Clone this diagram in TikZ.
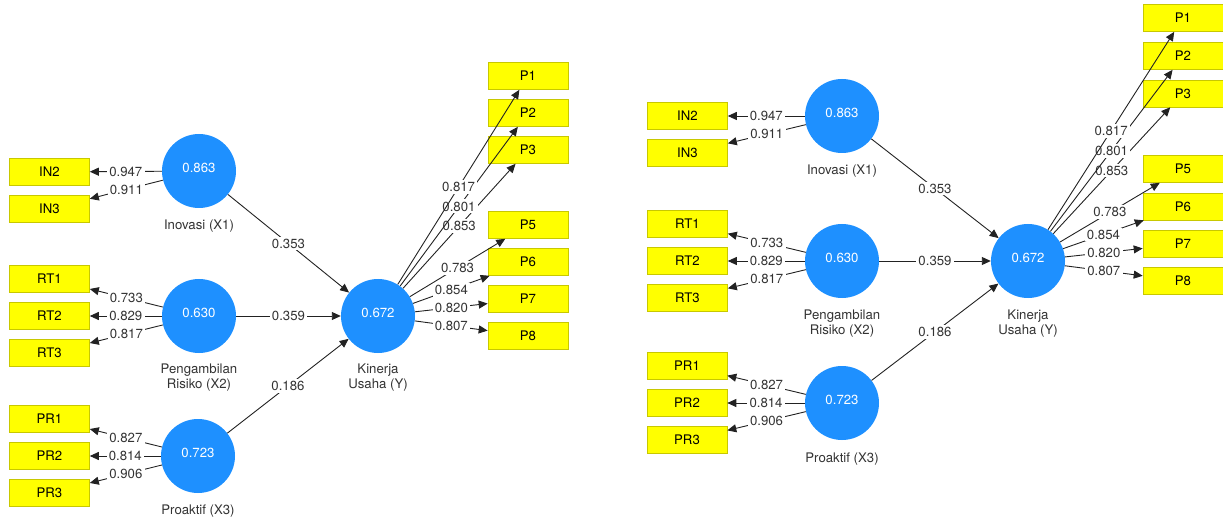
\documentclass[tikz,border=0pt]{standalone}
\usepackage{fontspec}
\setmainfont{TeX Gyre Heros}
\usetikzlibrary{arrows.meta}
\definecolor{latfill}{HTML}{1E90FF}
\definecolor{indfill}{HTML}{FFFF00}
\definecolor{indborder}{HTML}{C8C800}
\definecolor{txt}{HTML}{333333}
\definecolor{linec}{HTML}{222222}
\newcommand\myfs{\fontsize{13.2}{15}\selectfont}
\tikzset{
  indbox/.style={draw=indborder, line width=0.6pt, fill=indfill, minimum width=80pt, minimum height=27pt, inner sep=0pt, font=\myfs, text=black},
  latc/.style={circle, fill=latfill, minimum size=74pt, inner sep=0pt, label={[text=white, font=\myfs, yshift=3pt]center:#1}},
  latname/.style={text=txt, font=\myfs, align=center, inner sep=0pt},
  lnk/.style={draw=linec, line width=0.9pt, -{Triangle[length=9pt,width=8pt]}},
  coef/.style={fill=white, inner sep=2.2pt, text=txt, font=\myfs, midway}
}
\begin{document}
\begin{tikzpicture}[x=1pt,y=-1pt]
\useasboundingbox (0,0) rectangle (1223,521);
% ---------------- LEFT MODEL ----------------
\node[latc=0.863] (LX1) at (199,171) {};
\node[latc=0.630] (LX2) at (199,316) {};
\node[latc=0.723] (LX3) at (198,456) {};
\node[latc=0.672] (LY) at (378,316) {};
\node[latname] (LX1n) at (199,226) {Inovasi (X1)};
\node[latname] (LX2n) at (199,378) {Pengambilan\\Risiko (X2)};
\node[latname] (LX3n) at (198,511) {Proaktif (X3)};
\node[latname] (LYn) at (378,378) {Kinerja\\Usaha (Y)};
\node[indbox] (LIN2) at (49.5,172) {IN2};
\node[indbox] (LIN3) at (49.5,209) {IN3};
\node[indbox] (LRT1) at (49.5,279) {RT1};
\node[indbox] (LRT2) at (49.5,316) {RT2};
\node[indbox] (LRT3) at (49.5,353) {RT3};
\node[indbox] (LPR1) at (49.5,419) {PR1};
\node[indbox] (LPR2) at (49.5,456) {PR2};
\node[indbox] (LPR3) at (49.5,493) {PR3};
\node[indbox] (LP1) at (528,76) {P1};
\node[indbox] (LP2) at (528,113) {P2};
\node[indbox] (LP3) at (528,150) {P3};
\node[indbox] (LP5) at (528,225) {P5};
\node[indbox] (LP6) at (528,262) {P6};
\node[indbox] (LP7) at (528,299) {P7};
\node[indbox] (LP8) at (528,336) {P8};
\draw[lnk] (LX1) -- node[coef]{0.947} (LIN2);
\draw[lnk] (LX1) -- node[coef]{0.911} (LIN3);
\draw[lnk] (LX2) -- node[coef]{0.733} (LRT1);
\draw[lnk] (LX2) -- node[coef]{0.829} (LRT2);
\draw[lnk] (LX2) -- node[coef]{0.817} (LRT3);
\draw[lnk] (LX3) -- node[coef]{0.827} (LPR1);
\draw[lnk] (LX3) -- node[coef]{0.814} (LPR2);
\draw[lnk] (LX3) -- node[coef]{0.906} (LPR3);
\draw[lnk] (LX1) -- node[coef]{0.353} (LY);
\draw[lnk] (LX2) -- node[coef]{0.359} (LY);
\draw[lnk] (LX3) -- node[coef]{0.186} (LY);
\draw[lnk] (LY) -- node[coef]{0.853} (LP3);
\draw[lnk] (LY) -- node[coef]{0.801} (LP2);
\draw[lnk] (LY) -- node[coef]{0.817} (LP1);
\draw[lnk] (LY) -- node[coef]{0.783} (LP5);
\draw[lnk] (LY) -- node[coef]{0.854} (LP6);
\draw[lnk] (LY) -- node[coef]{0.820} (LP7);
\draw[lnk] (LY) -- node[coef]{0.807} (LP8);
% ---------------- RIGHT MODEL ----------------
\node[latc=0.863] (RX1) at (842,116) {};
\node[latc=0.630] (RX2) at (842,261) {};
\node[latc=0.723] (RX3) at (842,403) {};
\node[latc=0.672] (RY) at (1028,261) {};
\node[latname] (RX1n) at (842,171.5) {Inovasi (X1)};
\node[latname] (RX2n) at (842,323.5) {Pengambilan\\Risiko (X2)};
\node[latname] (RX3n) at (842,459) {Proaktif (X3)};
\node[latname] (RYn) at (1028,324) {Kinerja\\Usaha (Y)};
\node[indbox] (RIN2) at (687.5,116) {IN2};
\node[indbox] (RIN3) at (687.5,153) {IN3};
\node[indbox] (RRT1) at (687.5,224) {RT1};
\node[indbox] (RRT2) at (687.5,261) {RT2};
\node[indbox] (RRT3) at (687.5,298) {RT3};
\node[indbox] (RPR1) at (687,366) {PR1};
\node[indbox] (RPR2) at (687,403) {PR2};
\node[indbox] (RPR3) at (687,440) {PR3};
\node[indbox] (RP1) at (1183,18) {P1};
\node[indbox] (RP2) at (1183,56) {P2};
\node[indbox] (RP3) at (1183,93.5) {P3};
\node[indbox] (RP5) at (1183,169) {P5};
\node[indbox] (RP6) at (1183,206.5) {P6};
\node[indbox] (RP7) at (1183,244) {P7};
\node[indbox] (RP8) at (1183,281) {P8};
\draw[lnk] (RX1) -- node[coef]{0.947} (RIN2);
\draw[lnk] (RX1) -- node[coef]{0.911} (RIN3);
\draw[lnk] (RX2) -- node[coef]{0.733} (RRT1);
\draw[lnk] (RX2) -- node[coef]{0.829} (RRT2);
\draw[lnk] (RX2) -- node[coef]{0.817} (RRT3);
\draw[lnk] (RX3) -- node[coef]{0.827} (RPR1);
\draw[lnk] (RX3) -- node[coef]{0.814} (RPR2);
\draw[lnk] (RX3) -- node[coef]{0.906} (RPR3);
\draw[lnk] (RX1) -- node[coef]{0.353} (RY);
\draw[lnk] (RX2) -- node[coef]{0.359} (RY);
\draw[lnk] (RX3) -- node[coef]{0.186} (RY);
\draw[lnk] (RY) -- node[coef]{0.853} (RP3);
\draw[lnk] (RY) -- node[coef]{0.801} (RP2);
\draw[lnk] (RY) -- node[coef]{0.817} (RP1);
\draw[lnk] (RY) -- node[coef]{0.783} (RP5);
\draw[lnk] (RY) -- node[coef]{0.854} (RP6);
\draw[lnk] (RY) -- node[coef]{0.820} (RP7);
\draw[lnk] (RY) -- node[coef]{0.807} (RP8);
\end{tikzpicture}
\end{document}
